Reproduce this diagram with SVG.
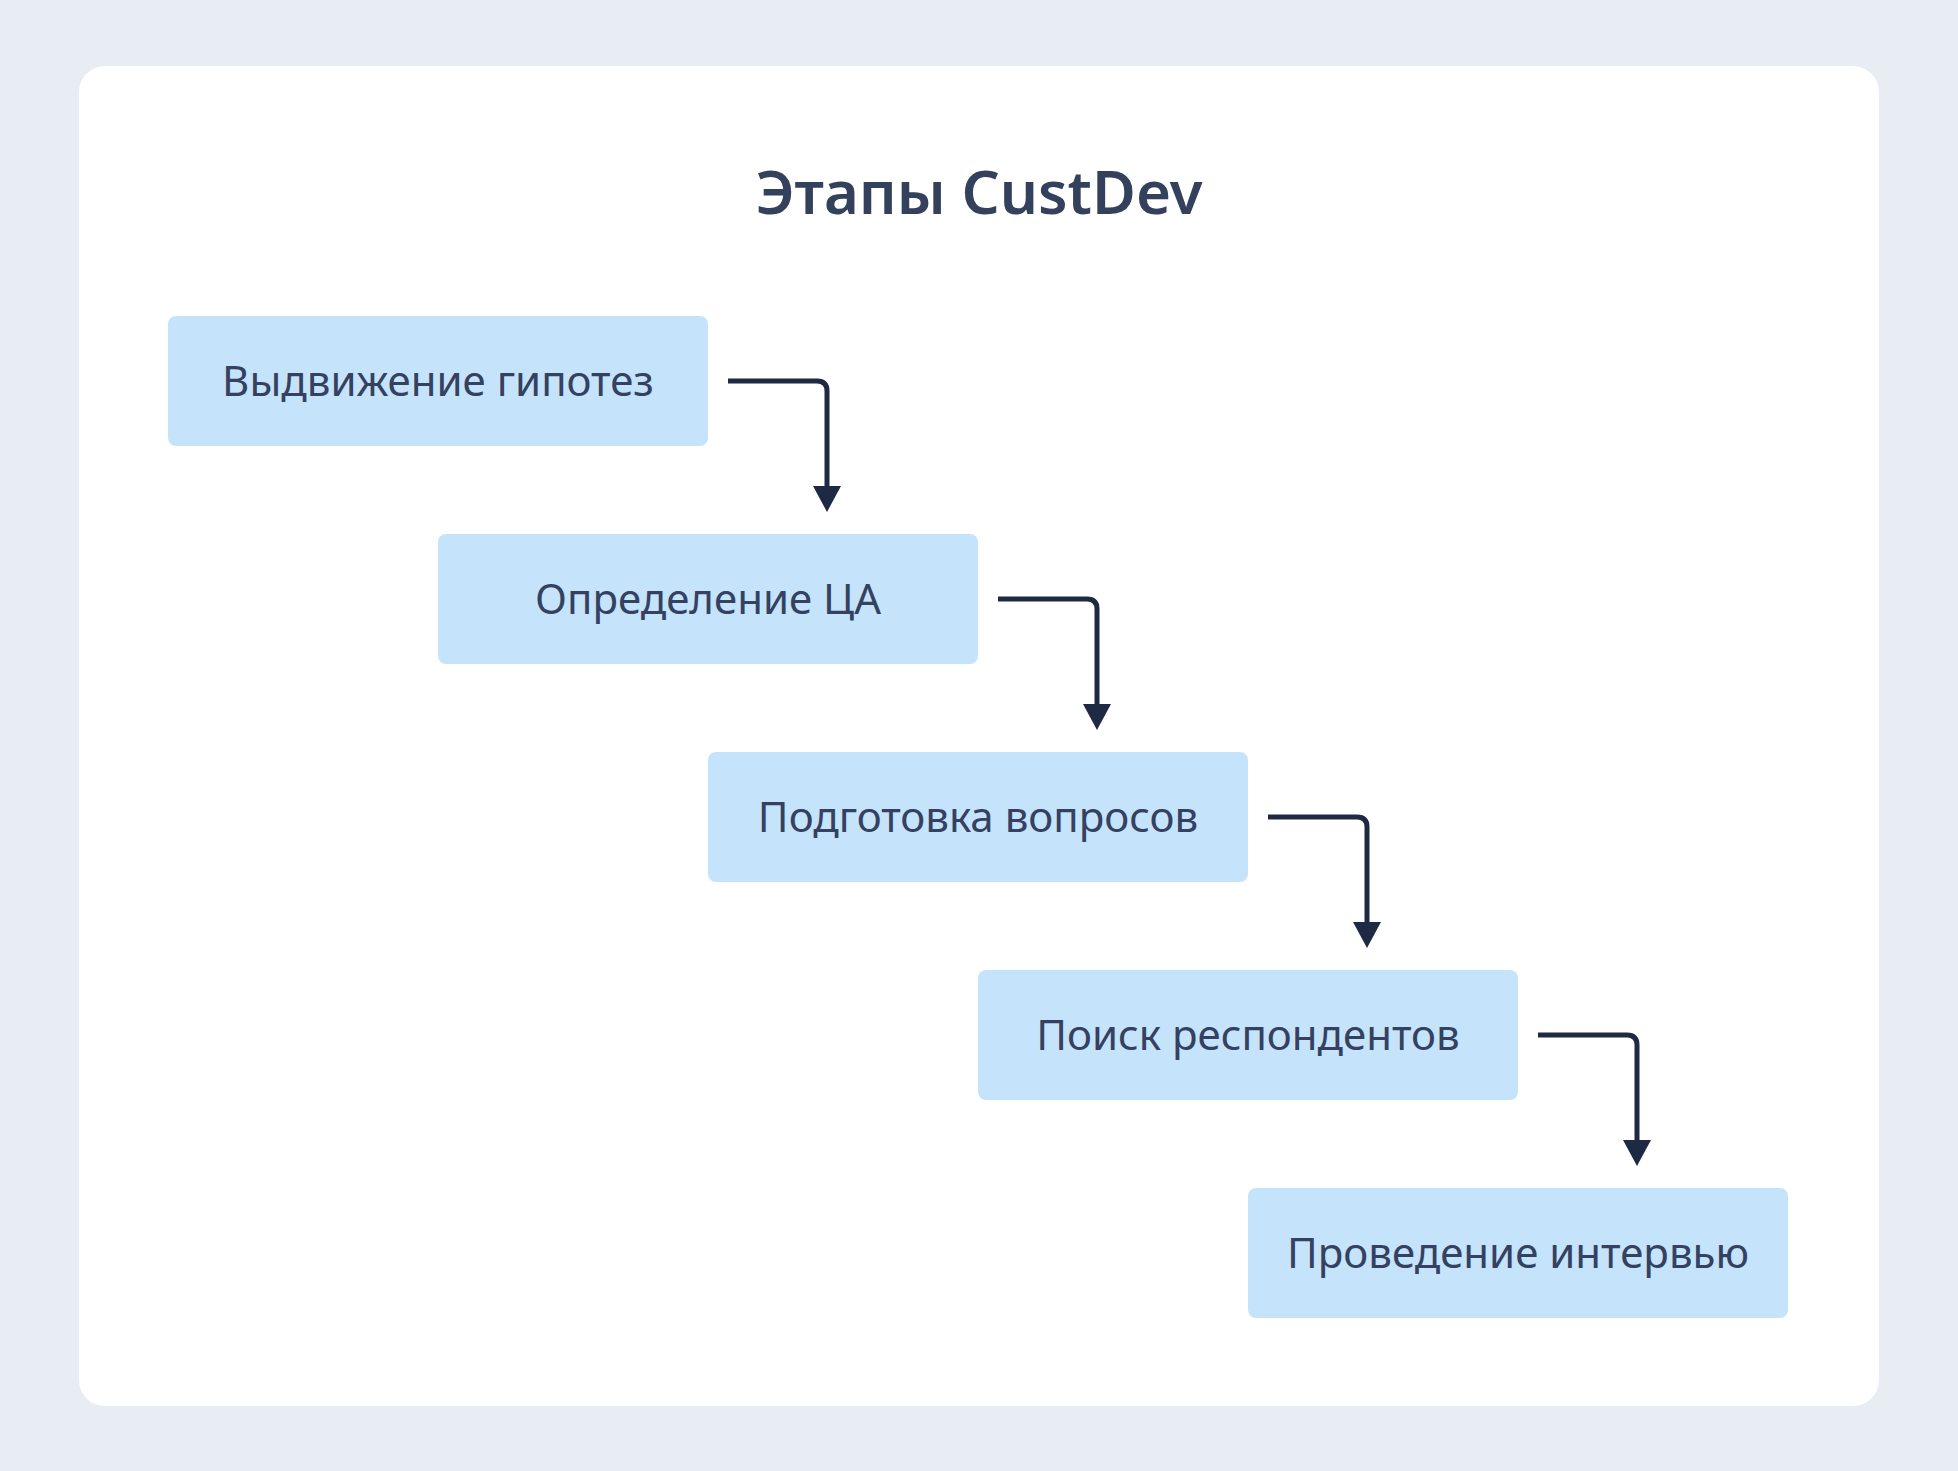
<svg xmlns="http://www.w3.org/2000/svg" width="1958" height="1471" viewBox="0 0 1958 1471">
<defs>
<style>
.node rect{fill:#c5e4fc}
.node text{font-family:"Noto Sans","Open Sans",sans-serif;font-size:42px;fill:#344160;text-anchor:middle;dominant-baseline:central}
.title{font-family:"Noto Sans","Open Sans",sans-serif;font-size:60px;font-weight:600;fill:#33415c;text-anchor:middle}
.conn path{fill:none;stroke:#1e2a44;stroke-width:5}
</style>
<marker id="arr" viewBox="0 0 26 28" refX="14" refY="14" markerWidth="26" markerHeight="28" markerUnits="userSpaceOnUse" orient="auto">
<path d="M0 0 L26 14 L0 28 Z" fill="#1e2a44"/>
</marker>
</defs>
<rect x="0" y="0" width="1958" height="1471" fill="#e8ecf3"/>
<rect x="79" y="66" width="1800" height="1340" rx="26" fill="#ffffff"/>
<text class="title" x="979" y="214">Этапы CustDev</text>
<g id="n1" class="node"><rect x="168" y="316" width="540" height="130" rx="8"/><text x="438" y="379">Выдвижение гипотез</text></g>
<g id="n2" class="node"><rect x="438" y="534" width="540" height="130" rx="8"/><text x="708" y="597">Определение ЦА</text></g>
<g id="n3" class="node"><rect x="708" y="752" width="540" height="130" rx="8"/><text x="978" y="815">Подготовка вопросов</text></g>
<g id="n4" class="node"><rect x="978" y="970" width="540" height="130" rx="8"/><text x="1248" y="1033">Поиск респондентов</text></g>
<g id="n5" class="node"><rect x="1248" y="1188" width="540" height="130" rx="8"/><text x="1518" y="1251">Проведение интервью</text></g>
<g id="connectors" class="conn">
<path d="M728 381 H817 Q827 381 827 391 V500" marker-end="url(#arr)"/>
<path d="M998 599 H1087 Q1097 599 1097 609 V718" marker-end="url(#arr)"/>
<path d="M1268 817 H1357 Q1367 817 1367 827 V936" marker-end="url(#arr)"/>
<path d="M1538 1035 H1627 Q1637 1035 1637 1045 V1154" marker-end="url(#arr)"/>
</g>
</svg>
